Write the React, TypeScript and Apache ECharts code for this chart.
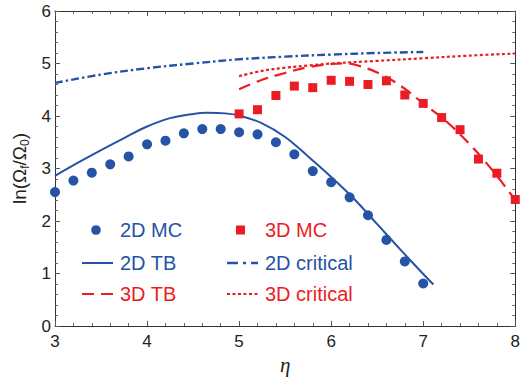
import React, { useEffect, useRef } from "react";
import * as echarts from "echarts";

const BLUE = "#2553a5";
const RED = "#ec1c24";
const FONT = "Liberation Sans, Arial, Helvetica, sans-serif";

// 2D Monte Carlo
const mc2dX = [3.0, 3.2, 3.4, 3.6, 3.8, 4.0, 4.2, 4.4, 4.6, 4.8, 5.0, 5.2, 5.4, 5.6, 5.8, 6.0, 6.2, 6.4, 6.6, 6.8, 7.0];
const mc2dY = [2.55, 2.77, 2.92, 3.08, 3.23, 3.46, 3.53, 3.67, 3.75, 3.75, 3.69, 3.65, 3.50, 3.27, 2.95, 2.74, 2.45, 2.11, 1.64, 1.23, 0.81];

// 3D Monte Carlo
const mc3dX = [5.0, 5.2, 5.4, 5.6, 5.8, 6.0, 6.2, 6.4, 6.6, 6.8, 7.0, 7.2, 7.4, 7.6, 7.8, 8.0];
const mc3dY = [4.04, 4.12, 4.39, 4.57, 4.54, 4.68, 4.66, 4.60, 4.67, 4.40, 4.24, 3.97, 3.74, 3.18, 2.91, 2.41];

// 2D theory (TB)
const tb2dX = [3.0, 3.25, 3.5, 3.75, 4.0, 4.25, 4.5, 4.65, 4.85, 5.0, 5.25, 5.5, 5.75, 6.0, 6.25, 6.5, 6.75, 7.0, 7.11];
const tb2dY = [2.86, 3.11, 3.35, 3.58, 3.80, 3.96, 4.04, 4.06, 4.05, 4.01, 3.86, 3.60, 3.23, 2.84, 2.42, 1.94, 1.46, 0.99, 0.79];

// 3D theory (TB)
const tb3dX = [5.0, 5.25, 5.5, 5.75, 6.0, 6.15, 6.25, 6.5, 6.75, 7.0, 7.25, 7.5, 7.75, 8.0];
const tb3dY = [4.51, 4.69, 4.82, 4.93, 4.99, 5.0, 4.98, 4.83, 4.58, 4.24, 3.90, 3.47, 2.97, 2.40];

// 2D critical
const cr2dX = [3.0, 3.5, 4.0, 4.5, 5.0, 5.5, 6.0, 6.5, 7.0];
const cr2dY = [4.63, 4.79, 4.91, 5.00, 5.08, 5.13, 5.17, 5.20, 5.22];

// 3D critical
const cr3dX = [5.0, 5.25, 5.5, 5.75, 6.0, 6.5, 7.0, 7.5, 8.0];
const cr3dY = [4.76, 4.86, 4.92, 4.96, 5.00, 5.05, 5.10, 5.15, 5.19];

const xTicks = [3, 4, 5, 6, 7, 8];
const yTicks = [0, 1, 2, 3, 4, 5, 6];

const legendLeft = ["2D MC", "2D TB", "3D TB"];
const legendRight = ["3D MC", "2D critical", "3D critical"];

const pairs = (xs: number[], ys: number[]) => xs.map((x, i) => [x, ys[i]]);

export default function App() {
  const ref = useRef<HTMLDivElement>(null);
  useEffect(() => {
    document.body.style.margin = "0";
    const chart = echarts.init(ref.current!, null, { renderer: "svg" });
    const axisCommon = {
      axisLine: { show: true, onZero: false, lineStyle: { color: "#333", width: 1 } },
      axisTick: { show: true, inside: true, length: 5, lineStyle: { color: "#555" } },
      minorTick: { show: true, splitNumber: 5, length: 3, lineStyle: { color: "#666" } },
      splitLine: { show: false },
    };
    const lineSeries = (name: string, xs: number[], ys: number[], color: string, type: any, width: number) => ({
      name,
      type: "line",
      data: pairs(xs, ys),
      symbol: "none",
      smooth: 0.35,
      lineStyle: { color, width, type },
      itemStyle: { color },
      z: 2,
    });

    // legend drawn as graphic (two columns, three rows)
    const rowsY = [230, 263, 294];
    const textStyle = (text: string, x: number, y: number, color: string) => ({
      type: "text",
      x,
      y,
      style: { text, fill: color, fontSize: 20, fontFamily: FONT, verticalAlign: "middle", align: "left" },
    });
    const lineIcon = (x: number, y: number, color: string, dash: any, w: number) => ({
      type: "line",
      shape: { x1: x, y1: y, x2: x + 31, y2: y },
      style: { stroke: color, lineWidth: w, lineDash: dash },
    });
    const graphic: any[] = [
      { type: "circle", shape: { cx: 96, cy: rowsY[0], r: 4.8 }, style: { fill: BLUE } },
      textStyle(legendLeft[0], 120, rowsY[0], BLUE),
      lineIcon(82, rowsY[1], BLUE, null, 2),
      textStyle(legendLeft[1], 120, rowsY[1], BLUE),
      lineIcon(82, rowsY[2], RED, [12, 7], 2.2),
      textStyle(legendLeft[2], 120, rowsY[2], RED),
      { type: "rect", shape: { x: 236, y: rowsY[0] - 4.5, width: 9, height: 9 }, style: { fill: RED } },
      textStyle(legendRight[0], 265, rowsY[0], RED),
      lineIcon(227, rowsY[1], BLUE, [11, 5, 3, 5], 2.4),
      textStyle(legendRight[1], 265, rowsY[1], BLUE),
      lineIcon(227, rowsY[2], RED, [3, 2.5], 2.2),
      textStyle(legendRight[2], 265, rowsY[2], RED),
    ];

    chart.setOption({
      animation: false,
      backgroundColor: "#fff",
      grid: { left: 55, right: 5, top: 11, bottom: 56 },
      xAxis: [
        {
          type: "value",
          min: xTicks[0],
          max: xTicks[xTicks.length - 1],
          interval: 1,
          position: "bottom",
          ...axisCommon,
          axisLabel: { color: "#222", fontSize: 17, fontFamily: FONT, margin: 7 },
          name: "η",
          nameLocation: "middle",
          nameGap: 27,
          nameTextStyle: { fontSize: 21, fontStyle: "italic", fontFamily: "Liberation Serif, serif", color: "#222" },
        },
        {
          type: "value",
          min: xTicks[0],
          max: xTicks[xTicks.length - 1],
          interval: 1,
          position: "top",
          ...axisCommon,
          axisLabel: { show: false },
        },
      ],
      yAxis: [
        {
          type: "value",
          min: yTicks[0],
          max: yTicks[yTicks.length - 1],
          interval: 1,
          position: "left",
          ...axisCommon,
          axisLabel: { color: "#222", fontSize: 17, fontFamily: FONT, margin: 4 },
          name: "ln(Ω{s|f}/Ω{s|0})",
          nameLocation: "middle",
          nameGap: 24,
          nameRotate: 90,
          nameTextStyle: {
            fontSize: 19,
            fontFamily: FONT,
            color: "#222",
            lineHeight: 22,
            rich: { s: { fontSize: 12, lineHeight: 12, verticalAlign: "bottom", fontFamily: FONT, color: "#222" } },
          },
        },
        {
          type: "value",
          min: yTicks[0],
          max: yTicks[yTicks.length - 1],
          interval: 1,
          position: "right",
          ...axisCommon,
          axisLabel: { show: false },
        },
      ],
      graphic,
      series: [
        lineSeries("2D TB", tb2dX, tb2dY, BLUE, "solid", 2),
        lineSeries("2D critical", cr2dX, cr2dY, BLUE, [8, 3, 2.5, 3], 2.4),
        lineSeries("3D TB", tb3dX, tb3dY, RED, [12, 7], 2.2),
        lineSeries("3D critical", cr3dX, cr3dY, RED, [3, 2.5], 2.2),
        {
          name: "2D MC",
          type: "scatter",
          data: pairs(mc2dX, mc2dY),
          symbol: "circle",
          symbolSize: 10,
          itemStyle: { color: BLUE, opacity: 1 },
          z: 3,
        },
        {
          name: "3D MC",
          type: "scatter",
          data: pairs(mc3dX, mc3dY),
          symbol: "rect",
          symbolSize: 9,
          itemStyle: { color: RED, opacity: 1 },
          z: 3,
        },
      ],
    });
    return () => chart.dispose();
  }, []);
  return <div ref={ref} style={{ position: "fixed", left: 0, top: 0, width: 523, height: 382 }} />;
}
